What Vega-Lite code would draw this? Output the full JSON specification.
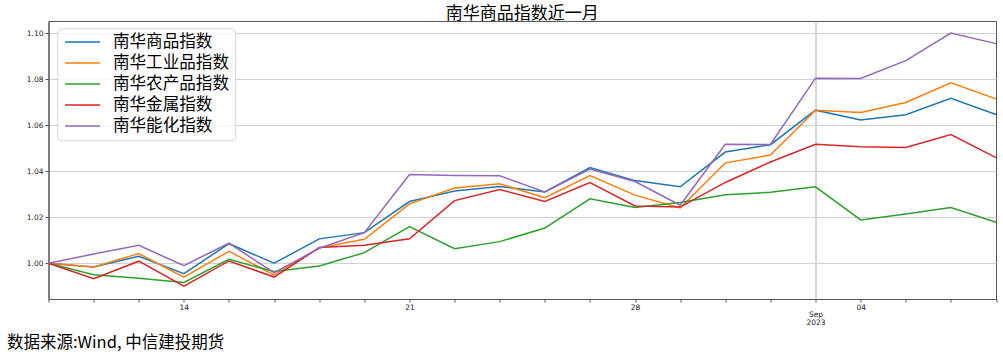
{
  "$schema": "https://vega.github.io/schema/vega-lite/v6.json",
  "autosize": "none",
  "width": 947.5,
  "height": 278,
  "padding": {"left": 48.5, "top": 21, "right": 7, "bottom": 55},
  "background": "white",
  "title": {"text": "南华商品指数近一月", "font": "Noto Sans CJK SC", "fontSize": 17, "fontWeight": "normal", "color": "black", "anchor": "middle", "offset": 0, "dy": 1.5},
  "config": {"view": {"stroke": "#555", "strokeWidth": 1}},
  "data": {"values": [
    {"d": "2023-08-09", "南华商品指数": 1.0000, "南华工业品指数": 1.0000, "南华农产品指数": 1.0000, "南华金属指数": 1.0000, "南华能化指数": 1.0000},
    {"d": "2023-08-10", "南华商品指数": 0.9984, "南华工业品指数": 0.9984, "南华农产品指数": 0.9950, "南华金属指数": 0.9933, "南华能化指数": 1.0040},
    {"d": "2023-08-11", "南华商品指数": 1.0030, "南华工业品指数": 1.0042, "南华农产品指数": 0.9935, "南华金属指数": 1.0009, "南华能化指数": 1.0078},
    {"d": "2023-08-14", "南华商品指数": 0.9955, "南华工业品指数": 0.9940, "南华农产品指数": 0.9917, "南华金属指数": 0.9901, "南华能化指数": 0.9990},
    {"d": "2023-08-15", "南华商品指数": 1.0085, "南华工业品指数": 1.0052, "南华农产品指数": 1.0017, "南华金属指数": 1.0010, "南华能化指数": 1.0087},
    {"d": "2023-08-16", "南华商品指数": 1.0000, "南华工业品指数": 0.9949, "南华农产品指数": 0.9964, "南华金属指数": 0.9940, "南华能化指数": 0.9959},
    {"d": "2023-08-17", "南华商品指数": 1.0106, "南华工业品指数": 1.0067, "南华农产品指数": 0.9988, "南华金属指数": 1.0068, "南华能化指数": 1.0065},
    {"d": "2023-08-18", "南华商品指数": 1.0133, "南华工业品指数": 1.0104, "南华农产品指数": 1.0046, "南华金属指数": 1.0078, "南华能化指数": 1.0133},
    {"d": "2023-08-21", "南华商品指数": 1.0268, "南华工业品指数": 1.0258, "南华农产品指数": 1.0159, "南华金属指数": 1.0106, "南华能化指数": 1.0385},
    {"d": "2023-08-22", "南华商品指数": 1.0314, "南华工业品指数": 1.0327, "南华农产品指数": 1.0063, "南华金属指数": 1.0272, "南华能化指数": 1.0381},
    {"d": "2023-08-23", "南华商品指数": 1.0333, "南华工业品指数": 1.0345, "南华农产品指数": 1.0094, "南华金属指数": 1.0320, "南华能化指数": 1.0380},
    {"d": "2023-08-24", "南华商品指数": 1.0310, "南华工业品指数": 1.0285, "南华农产品指数": 1.0153, "南华金属指数": 1.0268, "南华能化指数": 1.0310},
    {"d": "2023-08-25", "南华商品指数": 1.0416, "南华工业品指数": 1.0381, "南华农产品指数": 1.0280, "南华金属指数": 1.0350, "南华能化指数": 1.0409},
    {"d": "2023-08-28", "南华商品指数": 1.0359, "南华工业品指数": 1.0296, "南华农产品指数": 1.0242, "南华金属指数": 1.0249, "南华能化指数": 1.0355},
    {"d": "2023-08-29", "南华商品指数": 1.0332, "南华工业品指数": 1.0240, "南华农产品指数": 1.0264, "南华金属指数": 1.0244, "南华能化指数": 1.0252},
    {"d": "2023-08-30", "南华商品指数": 1.0483, "南华工业品指数": 1.0436, "南华农产品指数": 1.0298, "南华金属指数": 1.0351, "南华能化指数": 1.0517},
    {"d": "2023-08-31", "南华商品指数": 1.0515, "南华工业品指数": 1.0470, "南华农产品指数": 1.0308, "南华金属指数": 1.0440, "南华能化指数": 1.0516},
    {"d": "2023-09-01", "南华商品指数": 1.0665, "南华工业品指数": 1.0665, "南华农产品指数": 1.0332, "南华金属指数": 1.0517, "南华能化指数": 1.0804},
    {"d": "2023-09-04", "南华商品指数": 1.0622, "南华工业品指数": 1.0655, "南华农产品指数": 1.0188, "南华金属指数": 1.0506, "南华能化指数": 1.0803},
    {"d": "2023-09-05", "南华商品指数": 1.0645, "南华工业品指数": 1.0698, "南华农产品指数": 1.0214, "南华金属指数": 1.0503, "南华能化指数": 1.0880},
    {"d": "2023-09-06", "南华商品指数": 1.0717, "南华工业品指数": 1.0784, "南华农产品指数": 1.0242, "南华金属指数": 1.0559, "南华能化指数": 1.1000},
    {"d": "2023-09-07", "南华商品指数": 1.0646, "南华工业品指数": 1.0714, "南华农产品指数": 1.0178, "南华金属指数": 1.0459, "南华能化指数": 1.0954}
  ]},
  "transform": [
    {"fold": ["南华商品指数", "南华工业品指数", "南华农产品指数", "南华金属指数", "南华能化指数"], "as": ["s", "v"]}
  ],
  "mark": {"type": "line", "strokeWidth": 1.5},
  "encoding": {
    "x": {
      "field": "d", "type": "ordinal", "sort": null,
      "scale": {"type": "point", "padding": 0},
      "axis": {
        "title": "数据来源:Wind, 中信建投期货",
        "titleFont": "Noto Sans CJK SC", "titleFontSize": 16.5, "titleFontWeight": "normal", "titleColor": "black",
        "titleAlign": "left", "titleAnchor": "start", "titleBaseline": "alphabetic",
        "titleX": -42, "titleY": 48,
        "labelAngle": 0,
        "labelOverlap": false,
        "labelFont": "DejaVu Sans", "labelFontSize": 7.5, "labelColor": "#222",
        "labelLineHeight": 7.8, "labelBaseline": "top", "labelPadding": 1,
        "labelExpr": "datum.value == '2023-08-14' ? '14' : datum.value == '2023-08-21' ? '21' : datum.value == '2023-08-28' ? '28' : datum.value == '2023-09-04' ? '04' : datum.value == '2023-09-01' ? ['', '', 'Sep', '2023'] : ''",
        "tickSize": 3, "tickColor": "#555", "domainColor": "#555",
        "grid": true,
        "gridColor": "#b0b0b0",
        "gridOpacity": {"condition": {"test": "datum.value == '2023-09-01'", "value": 1}, "value": 0}
      }
    },
    "y": {
      "field": "v", "type": "quantitative",
      "scale": {"domain": [0.98448, 1.10522], "nice": false, "zero": false},
      "axis": {
        "title": null, "values": [1.0, 1.02, 1.04, 1.06, 1.08, 1.1], "format": ".2f",
        "labelFont": "DejaVu Sans", "labelFontSize": 7.5, "labelColor": "#222", "labelPadding": 2,
        "tickSize": 3.5, "tickColor": "#555", "domainColor": "#555",
        "gridColor": "#d0d0d0"
      }
    },
    "color": {
      "field": "s", "type": "nominal",
      "scale": {"domain": ["南华商品指数", "南华工业品指数", "南华农产品指数", "南华金属指数", "南华能化指数"],
                "range": ["#1f77b4", "#ff7f0e", "#2ca02c", "#d62728", "#9467bd"]},
      "legend": {
        "orient": "none", "legendX": 8.8, "legendY": 7.3, "title": null,
        "symbolType": "M-3,0L3,0", "symbolSize": 136, "symbolStrokeWidth": 1.5, "symbolOffset": 11.5,
        "labelFont": "Noto Sans CJK SC", "labelFontSize": 16.6, "labelColor": "black", "labelLimit": 400,
        "labelOffset": 22, "padding": 5.5, "rowPadding": 4,
        "strokeColor": "#d6d6d6", "fillColor": "rgba(255,255,255,0.85)", "cornerRadius": 4
      }
    }
  }
}
